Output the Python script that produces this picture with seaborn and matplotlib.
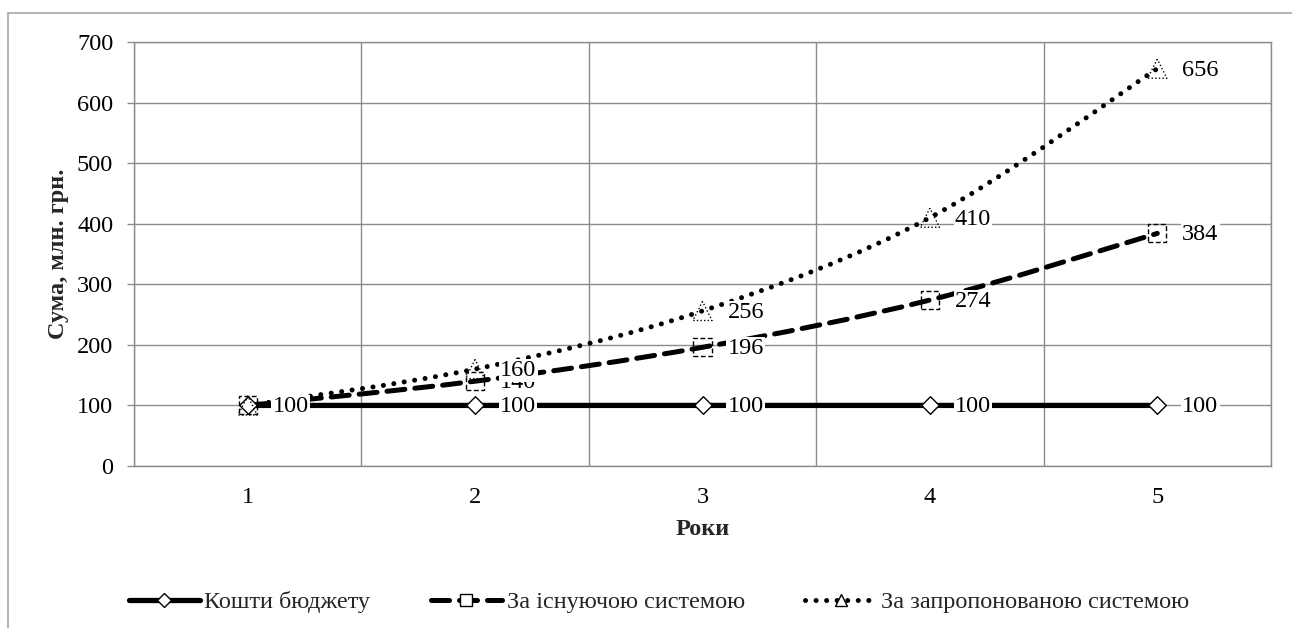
import numpy as np
import matplotlib
matplotlib.use("Agg")
import matplotlib.pyplot as plt
import seaborn as sns
from matplotlib.path import Path
from matplotlib.patches import PathPatch, Rectangle
from matplotlib.lines import Line2D

# ---- data ----
years = [1, 2, 3, 4, 5]
budget = [100, 100, 100, 100, 100]
existing = [100, 140, 196, 274, 384]
proposed = [100, 160, 256, 410, 656]
series_names = ["Кошти бюджету", "За існуючою системою", "За запропонованою системою"]
x_label = "Роки"
y_label = "Сума, млн. грн."
y_ticks = [0, 100, 200, 300, 400, 500, 600, 700]

sns.set_theme(style="white")
plt.rcParams["font.family"] = ["Liberation Serif", "DejaVu Serif"]

W, H = 1292, 628
fig = plt.figure(figsize=(W / 100, H / 100), dpi=100)
L, R, T, B = 134, 1271, 42, 466
ax = fig.add_axes([L / W, (H - B) / H, (R - L) / W, (B - T) / H])

GRID = "#8c8c8c"
FS = 17.5


def smooth_path(xs, ys):
    pts = np.column_stack([xs, ys]).astype(float)
    n = len(pts)
    verts = [pts[0]]
    codes = [Path.MOVETO]
    for i in range(n - 1):
        p0 = pts[i - 1] if i > 0 else pts[i]
        p1 = pts[i]
        p2 = pts[i + 1]
        p3 = pts[i + 2] if i + 2 < n else pts[i + 1]
        c1 = p1 + (p2 - p0) / 6.0
        c2 = p2 - (p3 - p1) / 6.0
        verts += [c1, c2, p2]
        codes += [Path.CURVE4] * 3
    return Path(verts, codes)


styles = [
    dict(vals=budget, ls="-", lw=3.8, marker="D", s=80, fc="white", mls="-"),
    dict(vals=existing, ls=(0, (3.6, 2.0)), lw=3.6, marker="s", s=170, fc="none", mls=(0, (3.5, 1.8))),
    dict(vals=proposed, ls=(0, (0.01, 2.1)), lw=3.6, marker="^", s=190, fc="none", mls=(0, (1, 1.6))),
]

# lines (smoothed, as in the original Excel chart)
for st in styles:
    patch = PathPatch(smooth_path(years, st["vals"]), fill=False, edgecolor="black",
                      linewidth=st["lw"], linestyle=st["ls"], capstyle="round",
                      joinstyle="round", transform=ax.transData, zorder=3)
    ax.add_patch(patch)

# markers
for st in styles:
    sns.scatterplot(x=years, y=st["vals"], marker=st["marker"], s=st["s"], ax=ax,
                    facecolors=st["fc"], edgecolors="black", linewidths=1.0, zorder=4)
    coll = ax.collections[-1]
    coll.set_facecolor(st["fc"])
    coll.set_edgecolor("black")
    coll.set_linestyle(st["mls"])
    coll.set_linewidth(1.0)

# data labels
for st in styles:
    for x, v in zip(years, st["vals"]):
        ax.annotate(str(v), (x, v), xytext=(18, -1), textcoords="offset points",
                    ha="left", va="center", fontsize=FS, color="black", zorder=5,
                    bbox=dict(boxstyle="square,pad=0.05", fc="white", ec="none"))

# axes
ax.set_xlim(0.5, 5.5)
ax.set_ylim(0, 700)
ax.set_xticks(years)
ax.set_xticks([0.5, 1.5, 2.5, 3.5, 4.5, 5.5], minor=True)
ax.set_yticks(y_ticks)
ax.set_xticklabels([str(y) for y in years], fontsize=FS)
ax.set_yticklabels([str(t) for t in y_ticks], fontsize=FS)
ax.grid(False)
ax.grid(True, which="minor", axis="x", color=GRID, lw=1.0)
ax.grid(True, which="major", axis="y", color=GRID, lw=1.0)
ax.set_axisbelow(True)
ax.tick_params(axis="x", which="major", length=0, pad=15, colors="black")
ax.tick_params(axis="x", which="minor", length=5, width=1.0, color=GRID, direction="out")
ax.tick_params(axis="y", which="major", length=5, width=1.0, color=GRID, direction="out",
               pad=10, labelcolor="black", left=True)
for sp in ax.spines.values():
    sp.set_visible(True)
    sp.set_color(GRID)
    sp.set_linewidth(1.0)

ax.set_xlabel(x_label, fontsize=FS, fontweight="bold")
ax.set_ylabel(y_label, fontsize=FS, fontweight="bold")
ax.xaxis.set_label_coords(0.5, (B - 519) / (B - T))
ax.yaxis.set_label_coords((69 - L) / (R - L), 0.5)

# legend
handles = []
for st in styles:
    handles.append(Line2D([], [], color="black", lw=st["lw"], linestyle=st["ls"],
                          dash_capstyle="round", solid_capstyle="round",
                          marker=st["marker"], markersize=9 if st["marker"] != "D" else 7,
                          markerfacecolor="white", markeredgecolor="black",
                          markeredgewidth=1.0))
fig.legend(handles, series_names, loc="center", bbox_to_anchor=(659 / W, (H - 602) / H),
           ncol=3, frameon=False, fontsize=FS, handlelength=2.9, handletextpad=0.2,
           columnspacing=2.5, borderaxespad=0)

# outer chart frame
fig.add_artist(Rectangle((8 / W, -0.1), 2.0, (H - 13) / H + 0.1, transform=fig.transFigure,
                         fill=False, edgecolor="#a6a6a6", lw=1.2))

fig.savefig("out.png", dpi=100)
